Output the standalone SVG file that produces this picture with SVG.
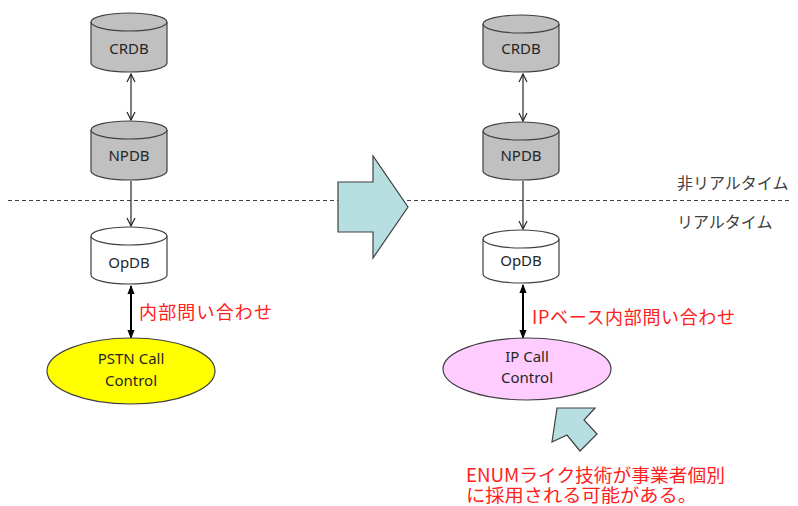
<svg xmlns="http://www.w3.org/2000/svg" width="798" height="506" viewBox="0 0 798 506">
  <defs>
    <style>
      .db { stroke: #404040; stroke-width: 1.2; }
      .db-gray { fill: #c0c0c0; }
      .db-white { fill: #ffffff; }
      .lbl { font-family: "Noto Sans", "Liberation Sans", sans-serif; font-size: 15px; fill: #262626; text-anchor: middle; }
      .jp { font-family: "Noto Sans CJK JP", sans-serif; }
      .red { fill: #ff2020; font-size: 18px; }
      .note { fill: #ff2020; font-size: 18px; }
      .zone { fill: #404040; font-size: 16px; }
      .link { stroke: #262626; stroke-width: 1.2; fill: none; }
      .link-bold { stroke: #000000; stroke-width: 2; fill: none; }
      .block { fill: #b7dee0; stroke: #404040; stroke-width: 1.2; stroke-linejoin: miter; }
    </style>
    <marker id="open" viewBox="0 0 10 10" refX="9" refY="5" markerWidth="10" markerHeight="10" markerUnits="userSpaceOnUse" orient="auto-start-reverse">
      <path d="M1,1 L9,5 L1,9" fill="none" stroke="#262626" stroke-width="1.2"/>
    </marker>
    <marker id="solid" viewBox="0 0 10 10" refX="9" refY="5" markerWidth="9" markerHeight="9" markerUnits="userSpaceOnUse" orient="auto-start-reverse">
      <path d="M0,1 L10,5 L0,9 Z" fill="#000000"/>
    </marker>
  </defs>

  <rect width="798" height="506" fill="#ffffff"/>

  <!-- boundary between non-realtime and realtime layers -->
  <line x1="8" y1="200.5" x2="790" y2="200.5" stroke="#404040" stroke-width="1.2" stroke-dasharray="4 3"/>
  <text class="jp zone" x="677" y="189">非リアルタイム</text>
  <text class="jp zone" x="677" y="228">リアルタイム</text>

  <!-- migration arrow -->
  <polygon class="block" points="338,182 373,182 373,156 408,207 373,258 373,232 338,232"/>

  <!-- connectors -->
  <g id="connectors">
    <line class="link" x1="131" y1="74" x2="131" y2="120" marker-start="url(#open)" marker-end="url(#open)"/>
    <line class="link" x1="131" y1="181" x2="131" y2="226" marker-end="url(#open)"/>
    <line class="link-bold" x1="131" y1="286" x2="131" y2="338" marker-start="url(#solid)" marker-end="url(#solid)"/>
    <line class="link" x1="523" y1="74" x2="523" y2="121" marker-start="url(#open)" marker-end="url(#open)"/>
    <line class="link" x1="523" y1="181" x2="523" y2="229" marker-end="url(#open)"/>
    <line class="link-bold" x1="523" y1="285" x2="523" y2="338" marker-start="url(#solid)" marker-end="url(#solid)"/>
  </g>

  <!-- PSTN side -->
  <g id="crdb-left">
    <path class="db db-gray" d="M91,22 V63 A38,9 0 0 0 167,63 V22"/>
    <ellipse class="db db-gray" cx="129" cy="22" rx="38" ry="9"/>
    <text class="lbl" x="129" y="54">CRDB</text>
  </g>
  <g id="npdb-left">
    <path class="db db-gray" d="M91,130 V171 A38,9 0 0 0 167,171 V130"/>
    <ellipse class="db db-gray" cx="129" cy="130" rx="38" ry="9"/>
    <text class="lbl" x="129" y="161">NPDB</text>
  </g>
  <g id="opdb-left">
    <path class="db db-white" d="M91,236 V275 A38,9 0 0 0 167,275 V236"/>
    <ellipse class="db db-white" cx="129" cy="236" rx="38" ry="9"/>
    <text class="lbl" x="129" y="268">OpDB</text>
  </g>
  <g id="pstn-call-control">
    <ellipse cx="131" cy="371" rx="84" ry="33" fill="#ffff00" stroke="#404040" stroke-width="1.2"/>
    <text class="lbl" x="131" y="364">PSTN Call</text>
    <text class="lbl" x="131" y="386">Control</text>
  </g>
  <text class="jp red" x="139" y="319" textLength="133">内部問い合わせ</text>

  <!-- IP side -->
  <g id="crdb-right">
    <path class="db db-gray" d="M483,24 V63 A38,9 0 0 0 559,63 V24"/>
    <ellipse class="db db-gray" cx="521" cy="24" rx="38" ry="9"/>
    <text class="lbl" x="521" y="54">CRDB</text>
  </g>
  <g id="npdb-right">
    <path class="db db-gray" d="M483,131 V171 A38,9 0 0 0 559,171 V131"/>
    <ellipse class="db db-gray" cx="521" cy="131" rx="38" ry="9"/>
    <text class="lbl" x="521" y="161">NPDB</text>
  </g>
  <g id="opdb-right">
    <path class="db db-white" d="M483,239 V274 A38,9 0 0 0 559,274 V239"/>
    <ellipse class="db db-white" cx="521" cy="239" rx="38" ry="9"/>
    <text class="lbl" x="521" y="266">OpDB</text>
  </g>
  <g id="ip-call-control">
    <ellipse cx="527" cy="369" rx="84" ry="31" fill="#ffccff" stroke="#404040" stroke-width="1.2"/>
    <text class="lbl" x="527" y="362">IP Call</text>
    <text class="lbl" x="527" y="383">Control</text>
  </g>
  <text class="jp red" x="532" y="324" textLength="203">IPベース内部問い合わせ</text>

  <!-- ENUM pointer -->
  <polygon class="block" points="557,408 595,408 584,420 597,434 580,451 567,435 552,442"/>
  <text class="jp note" x="466" y="482" textLength="259" lengthAdjust="spacingAndGlyphs">ENUMライク技術が事業者個別</text>
  <text class="jp note" x="466" y="502" textLength="231" lengthAdjust="spacingAndGlyphs">に採用される可能がある。</text>
</svg>
